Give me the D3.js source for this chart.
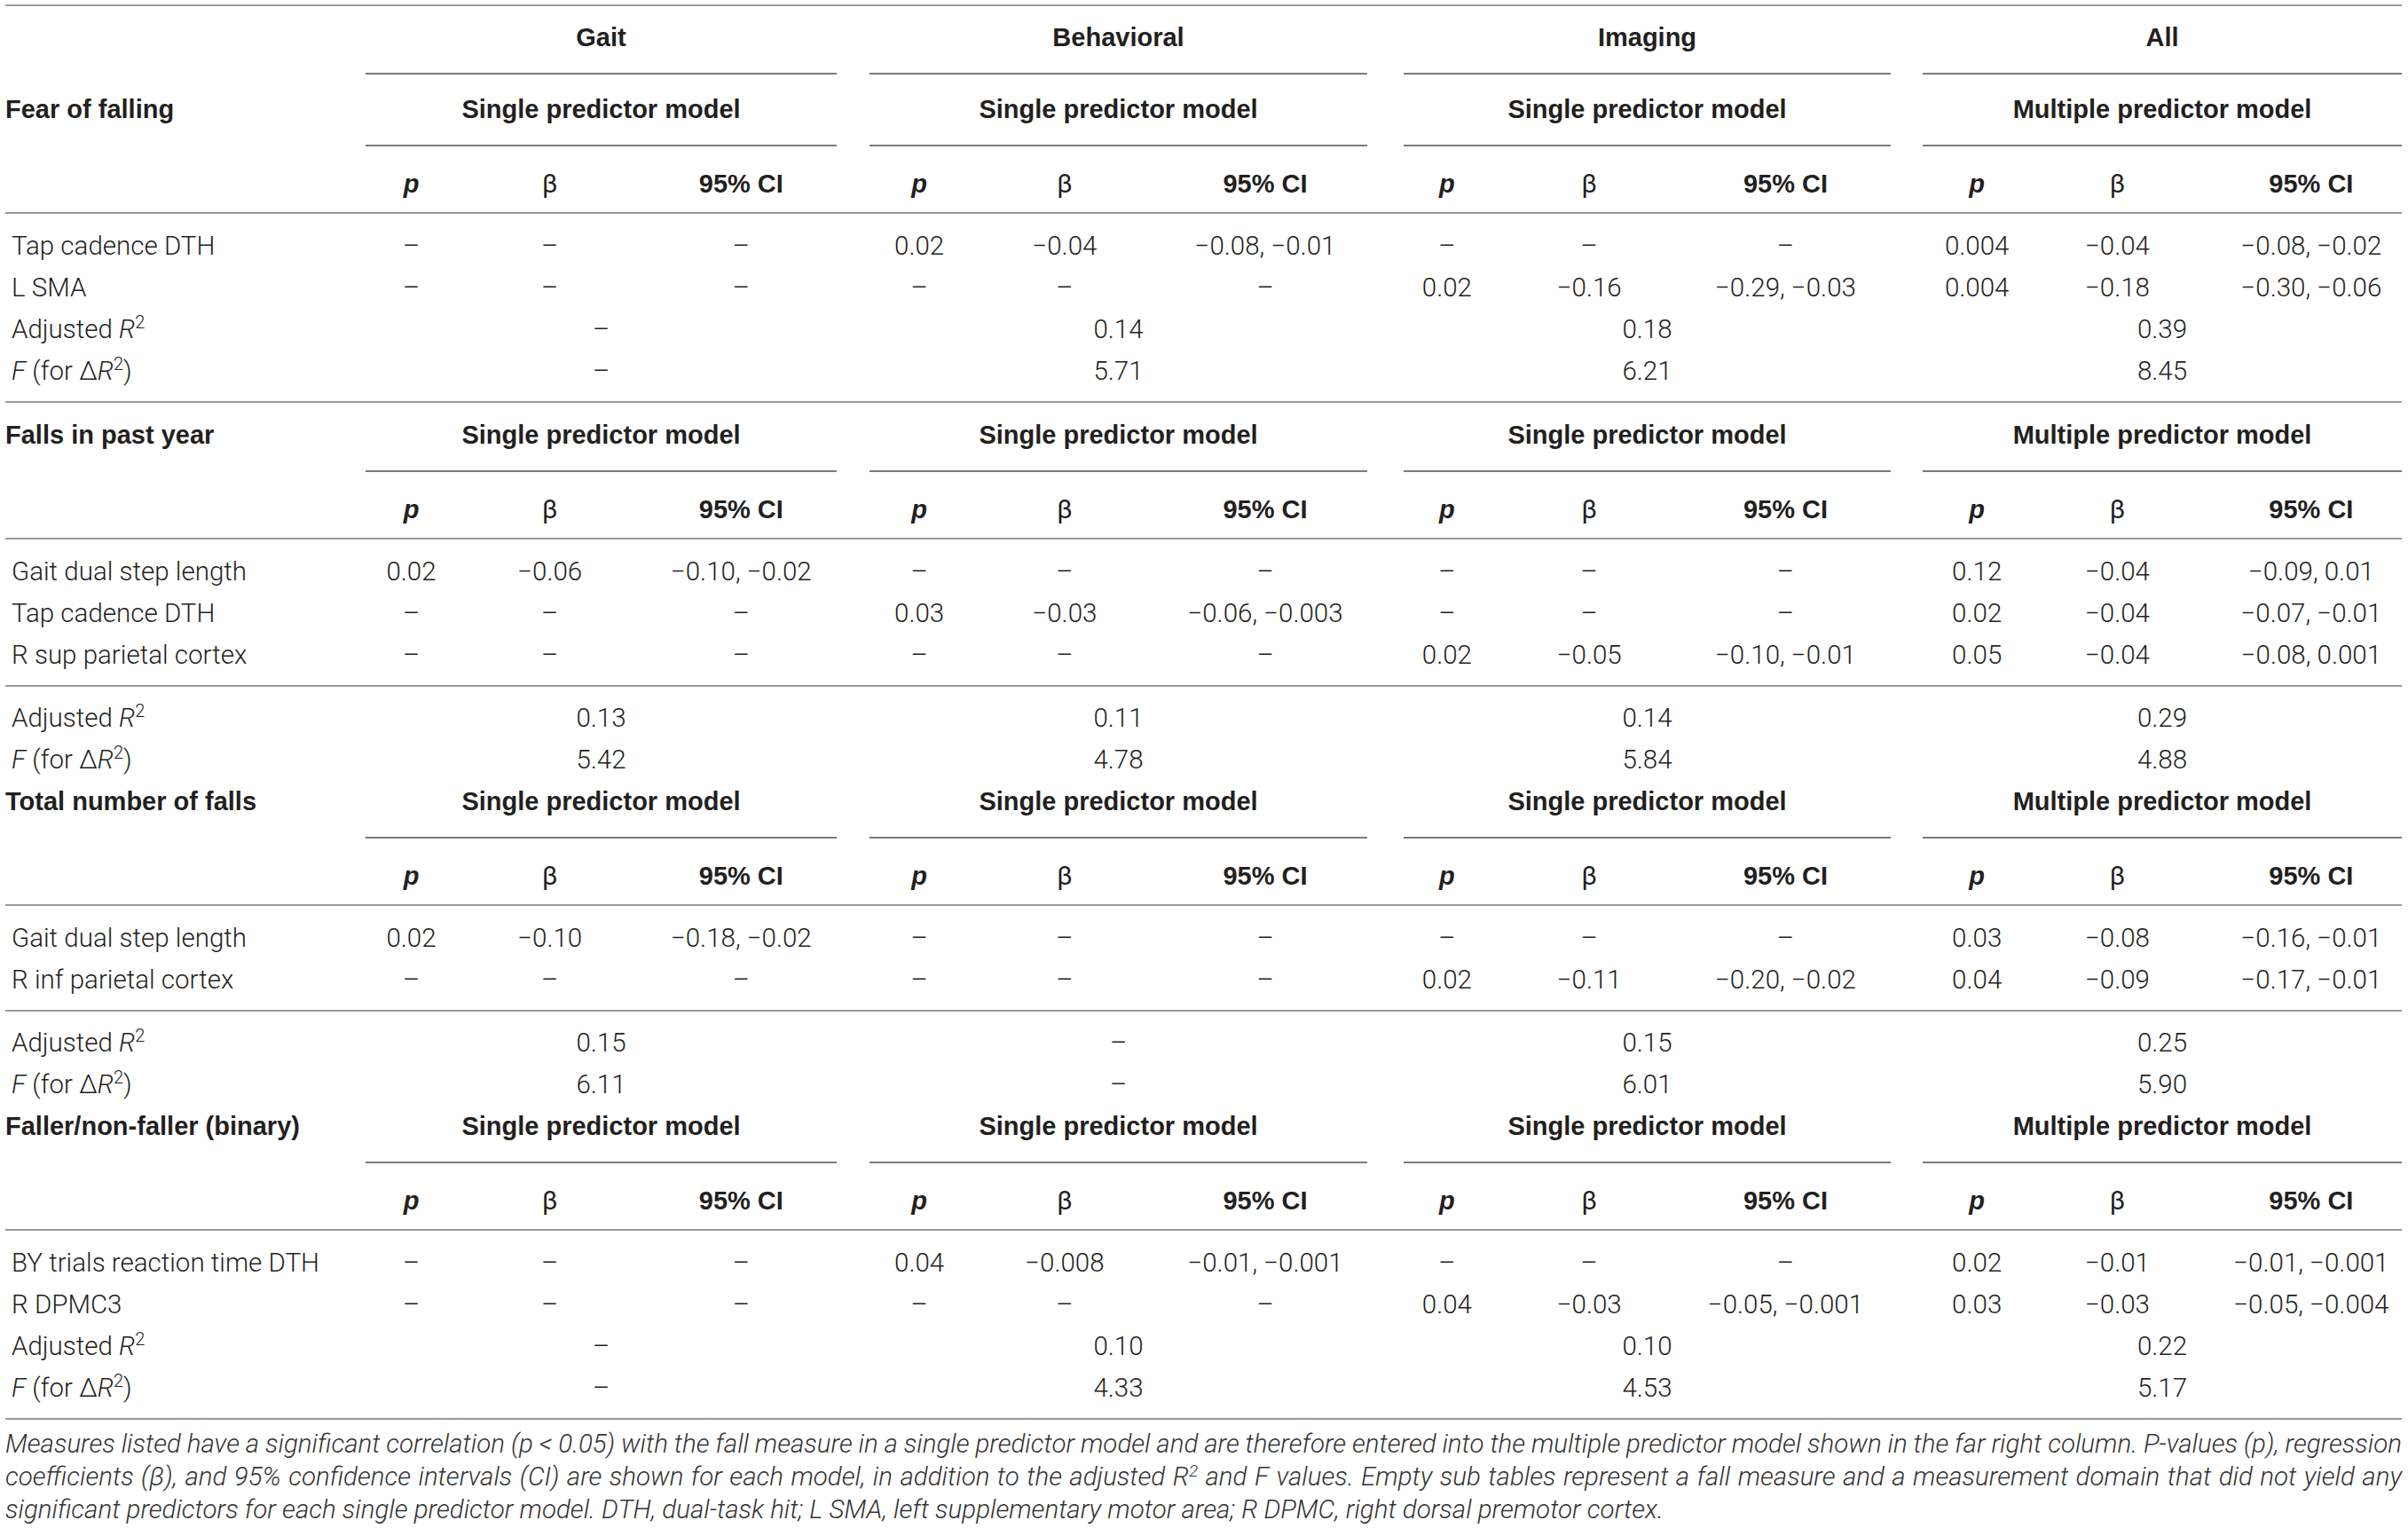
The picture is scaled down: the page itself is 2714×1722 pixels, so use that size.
<!DOCTYPE html>
<html>
<head>
<meta charset="utf-8">
<script src="https://cdn.jsdelivr.net/npm/d3@7"></script>
<style>
  html, body { margin: 0; padding: 0; background: #fff; }
  svg { display: block; }
</style>
</head>
<body>
<div id="chart"></div>
<script>
// table content
const groups = ['Gait', 'Behavioral', 'Imaging', 'All'];
const modelLabels = ['Single predictor model', 'Single predictor model', 'Single predictor model', 'Multiple predictor model'];
const statHeaders = ['p', 'β', '95% CI'];
const sections = ['Fear of falling', 'Falls in past year', 'Total number of falls', 'Faller/non-faller (binary)'];

const E = ['–', '–', '–'];

const fearPredictors = ['Tap cadence DTH', 'L SMA'];
const fearValues = [
  [E, ['0.02', '−0.04', '−0.08, −0.01'], E, ['0.004', '−0.04', '−0.08, −0.02']],
  [E, E, ['0.02', '−0.16', '−0.29, −0.03'], ['0.004', '−0.18', '−0.30, −0.06']],
];
const fearR2 = ['–', '0.14', '0.18', '0.39'];
const fearF = ['–', '5.71', '6.21', '8.45'];

const pastYearPredictors = ['Gait dual step length', 'Tap cadence DTH', 'R sup parietal cortex'];
const pastYearValues = [
  [['0.02', '−0.06', '−0.10, −0.02'], E, E, ['0.12', '−0.04', '−0.09, 0.01']],
  [E, ['0.03', '−0.03', '−0.06, −0.003'], E, ['0.02', '−0.04', '−0.07, −0.01']],
  [E, E, ['0.02', '−0.05', '−0.10, −0.01'], ['0.05', '−0.04', '−0.08, 0.001']],
];
const pastYearR2 = ['0.13', '0.11', '0.14', '0.29'];
const pastYearF = ['5.42', '4.78', '5.84', '4.88'];

const totalPredictors = ['Gait dual step length', 'R inf parietal cortex'];
const totalValues = [
  [['0.02', '−0.10', '−0.18, −0.02'], E, E, ['0.03', '−0.08', '−0.16, −0.01']],
  [E, E, ['0.02', '−0.11', '−0.20, −0.02'], ['0.04', '−0.09', '−0.17, −0.01']],
];
const totalR2 = ['0.15', '–', '0.15', '0.25'];
const totalF = ['6.11', '–', '6.01', '5.90'];

const binaryPredictors = ['BY trials reaction time DTH', 'R DPMC3'];
const binaryValues = [
  [E, ['0.04', '−0.008', '−0.01, −0.001'], E, ['0.02', '−0.01', '−0.01, −0.001']],
  [E, E, ['0.04', '−0.03', '−0.05, −0.001'], ['0.03', '−0.03', '−0.05, −0.004']],
];
const binaryR2 = ['–', '0.10', '0.10', '0.22'];
const binaryF = ['–', '4.33', '4.53', '5.17'];

const footnote = [
  'Measures listed have a significant correlation (p < 0.05) with the fall measure in a single predictor model and are therefore entered into the multiple predictor model shown in the far right column. P-values (p), regression',
  'coefficients (β), and 95% confidence intervals (CI) are shown for each model, in addition to the adjusted R2 and F values. Empty sub tables represent a fall measure and a measurement domain that did not yield any',
  'significant predictors for each single predictor model. DTH, dual-task hit; L SMA, left supplementary motor area; R DPMC, right dorsal premotor cortex.',
];

const blocks = [
  { predictors: fearPredictors, values: fearValues, r2: fearR2, f: fearF, ruleBeforeStats: false, ruleAfter: true },
  { predictors: pastYearPredictors, values: pastYearValues, r2: pastYearR2, f: pastYearF, ruleBeforeStats: true, ruleAfter: false },
  { predictors: totalPredictors, values: totalValues, r2: totalR2, f: totalF, ruleBeforeStats: true, ruleAfter: false },
  { predictors: binaryPredictors, values: binaryValues, r2: binaryR2, f: binaryF, ruleBeforeStats: false, ruleAfter: true },
];

// layout
const width = 2714;
const height = 1722;
const left = 6;
const right = 2707;
const lightFont = 'Roboto, "Liberation Sans", Arial, sans-serif';
const boldFont = '"Liberation Sans", Arial, Helvetica, sans-serif';
const fs = 29.5;
const bfs = 29;
const base = 10;
const ink = '#231f20';
const rowStep = 47;

// rules span the group; text columns sit on a slightly different span
const groupStart = d3.scaleOrdinal(groups, [412, 980, 1582, 2167]);
const groupEnd = d3.scaleOrdinal(groups, [943, 1541, 2131, 2707]);
const colStart = d3.scaleOrdinal(groups, [410, 980, 1576, 2174]);
const colEnd = d3.scaleOrdinal(groups, [945, 1541, 2125, 2716]);
const statPos = d3.scaleOrdinal(statHeaders, [0.1, 0.392, 0.795]);
const colX = (g, s) => d3.scaleLinear([0, 1], [colStart(g), colEnd(g)])(statPos(s));
const midX = (g) => (groupStart(g) + groupEnd(g)) / 2;

const svg = d3.select('#chart')
  .append('svg')
  .attr('width', width)
  .attr('height', height)
  .attr('font-family', lightFont)
  .attr('font-size', fs)
  .attr('font-weight', 300)
  .attr('fill', ink);

svg.append('rect').attr('width', width).attr('height', height).attr('fill', '#fff');

const fullRule = (y) => svg.append('line')
  .attr('x1', left).attr('x2', right)
  .attr('y1', y).attr('y2', y)
  .attr('stroke', '#9a9a9a').attr('stroke-width', 2);

const groupRules = (y) => svg.append('g').selectAll('line')
  .data(groups)
  .join('line')
  .attr('x1', (g) => groupStart(g))
  .attr('x2', (g) => groupEnd(g))
  .attr('y1', y).attr('y2', y)
  .attr('stroke', '#7a7a7a').attr('stroke-width', 2);

const bold = (sel) => sel
  .attr('font-family', boldFont)
  .attr('font-size', bfs)
  .attr('font-weight', 700);

const centred = (y, list, xOf) => svg.append('g').selectAll('text')
  .data(list)
  .join('text')
  .attr('x', xOf)
  .attr('y', y + base)
  .attr('text-anchor', 'middle')
  .text((d) => d);

const labelWithR2 = (y, isF) => {
  const t = svg.append('text').attr('x', left + 7).attr('y', y + base);
  if (isF) {
    t.append('tspan').attr('font-style', 'italic').text('F');
    t.append('tspan').text(' (for Δ');
  } else {
    t.append('tspan').text('Adjusted ');
  }
  t.append('tspan').attr('font-style', 'italic').text('R');
  t.append('tspan').attr('dy', -11).attr('font-size', 20).text('2');
  if (isF) t.append('tspan').attr('dy', 11).text(')');
};

// top rule and domain headers
fullRule(6);
bold(centred(42, groups, (g) => midX(g)));
groupRules(83);

let T = 123;
blocks.forEach((b, si) => {
  bold(svg.append('text')
    .attr('x', left)
    .attr('y', T + base)
    .text(sections[si]));
  bold(centred(T, modelLabels, (d, i) => midX(groups[i])));
  groupRules(T + 41);

  // p / β / 95% CI header per group
  const hy = T + 84;
  groups.forEach((g) => {
    svg.append('g').selectAll('text')
      .data(statHeaders)
      .join('text')
      .attr('x', (s) => colX(g, s))
      .attr('y', hy + base)
      .attr('text-anchor', 'middle')
      .attr('font-family', (s) => (s === 'β' ? lightFont : boldFont))
      .attr('font-size', (s) => (s === 'β' ? fs : bfs))
      .attr('font-weight', (s) => (s === 'β' ? 400 : 700))
      .attr('font-style', (s) => (s === 'p' ? 'italic' : 'normal'))
      .text((s) => s);
  });
  fullRule(T + 117);

  let y = T + 154;
  b.predictors.forEach((name, ri) => {
    svg.append('text')
      .attr('x', left + 7)
      .attr('y', y + base)
      .text(name);
    groups.forEach((g, gi) => {
      svg.append('g').selectAll('text')
        .data(b.values[ri][gi])
        .join('text')
        .attr('x', (v, k) => colX(g, statHeaders[k]))
        .attr('y', y + base)
        .attr('text-anchor', 'middle')
        .text((v) => v);
    });
    y += rowStep;
  });
  y -= rowStep;

  if (b.ruleBeforeStats) {
    fullRule(y + 35);
    y += 71;
  } else {
    y += rowStep;
  }
  labelWithR2(y, false);
  centred(y, b.r2, (v, i) => midX(groups[i]));
  y += rowStep;
  labelWithR2(y, true);
  centred(y, b.f, (v, i) => midX(groups[i]));

  if (b.ruleAfter) {
    fullRule(y + 35);
    T = y + 72;
  } else {
    T = y + rowStep;
  }
});

// footnote, first two lines justified to the table width
const noteTop = T - 9;
footnote.forEach((line, i) => {
  const t = svg.append('text')
    .attr('x', left)
    .attr('y', noteTop + i * 37 + base)
    .attr('font-size', 29.5)
    .attr('font-style', 'italic')
    .attr('fill', '#333');
  if (line.includes('R2')) {
    const [a, rest] = line.split('R2');
    t.append('tspan').text(a + 'R');
    t.append('tspan').attr('dy', -10).attr('font-size', 19).text('2');
    t.append('tspan').attr('dy', 10).text(rest);
  } else {
    t.text(line);
  }
  if (i < footnote.length - 1) {
    const len = t.node().getComputedTextLength();
    const spaces = (line.match(/ /g) || []).length;
    t.attr('word-spacing', (right - left - len) / spaces);
  }
});
</script>
</body>
</html>
